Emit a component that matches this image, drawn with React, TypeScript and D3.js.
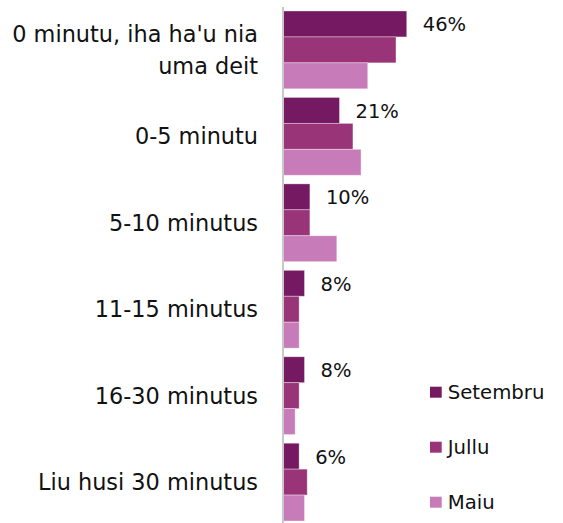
import React from "react";
import * as d3 from "d3";

const categories: string[][] = [
  ["0 minutu, iha ha'u nia", "uma deit"],
  ["0-5 minutu"],
  ["5-10 minutus"],
  ["11-15 minutus"],
  ["16-30 minutus"],
  ["Liu husi 30 minutus"],
];
const seriesNames = ["Setembru", "Jullu", "Maiu"];
const setembru = [46, 21, 10, 8, 8, 6];
const jullu = [42, 26, 10, 6, 6, 9];
const maiu = [31.5, 29, 20, 6, 4.5, 8];
const seriesValues = [setembru, jullu, maiu];
const colors = ["#741962", "#9a3478", "#c77bb8"];

const W = 563;
const H = 523;
const FONT = "'DejaVu Sans', sans-serif";

export default function App() {
  const keys = categories.map((_, i) => String(i));
  const x = d3.scaleLinear().domain([0, 100]).range([283, 283 + 269]);
  const y = d3.scaleBand<string>().domain(keys).range([11, 521]).paddingInner(0.1).paddingOuter(0);
  const inner = d3.scaleBand<string>().domain(seriesNames).range([0, y.bandwidth()]).padding(0);

  return (
    <svg width={W} height={H} style={{ position: "absolute", left: 0, top: 0 }}>
      <rect width={W} height={H} fill="#fff" />
      {keys.map((k, ci) => {
        const y0 = y(k)!;
        const cy = y0 + y.bandwidth() / 2;
        const lines = categories[ci];
        const lh = 31.6;
        return (
          <g key={k}>
            {seriesNames.map((s, si) => {
              const v = seriesValues[si][ci];
              return (
                <rect
                  key={s}
                  x={x(0)}
                  y={y0 + inner(s)!}
                  width={x(v) - x(0)}
                  height={inner.bandwidth()}
                  fill={colors[si]}
                  stroke="rgba(255,255,255,0.45)"
                  strokeWidth={0.8}
                />
              );
            })}
            <text
              x={x(setembru[ci]) + 16}
              y={y0 + inner("Setembru")! + inner.bandwidth() / 2 + 7.5}
              fontFamily={FONT}
              fontSize={19.5}
              fill="#111"
            >
              {setembru[ci]}%
            </text>
            {lines.map((ln, li) => (
              <text
                key={li}
                x={258}
                y={cy + 8 + (li - (lines.length - 1) / 2) * lh}
                textAnchor="end"
                fontFamily={FONT}
                fontSize={22.4}
                fill="#111"
              >
                {ln}
              </text>
            ))}
          </g>
        );
      })}
      <line x1={x(0)} x2={x(0)} y1={7} y2={H} stroke="#c8c8c8" strokeWidth={2} />
      {seriesNames.map((s, si) => (
        <g key={s} transform={`translate(430, ${386.7 + si * 55})`}>
          <rect width={11.7} height={11} fill={colors[si]} />
          <text x={17.7} y={12.6} fontFamily={FONT} fontSize={19.7} fill="#111">
            {s}
          </text>
        </g>
      ))}
    </svg>
  );
}
